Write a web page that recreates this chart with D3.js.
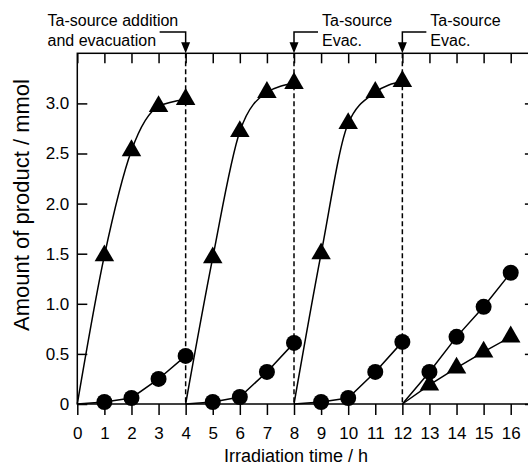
<!DOCTYPE html>
<html>
<head>
<meta charset="utf-8">
<script src="https://cdn.jsdelivr.net/npm/d3@7"></script>
<style>
  body { margin: 0; background: #fff; }
  svg { display: block; font-family: "Liberation Sans", Arial, sans-serif; }
</style>
</head>
<body>
<div id="chart"></div>
<script>
// ===== DATA =====
const runStarts = [0, 4, 8, 12];
const triangleRuns = [
  [0, 1.48, 2.53, 2.97, 3.04],
  [0, 1.46, 2.72, 3.11, 3.20],
  [0, 1.50, 2.80, 3.11, 3.22],
  [0, 0.19, 0.36, 0.52, 0.67]
];
const circleRuns = [
  [0, 0.02, 0.06, 0.25, 0.48],
  [0, 0.02, 0.07, 0.32, 0.61],
  [0, 0.02, 0.06, 0.32, 0.62],
  [0, 0.32, 0.67, 0.97, 1.31]
];
const smoothRuns = [true, true, true, false];
const evacTimes = [4, 8, 12];
const xTicks = d3.range(0, 17);
const yTicks = [0, 0.5, 1.0, 1.5, 2.0, 2.5, 3.0];
const notes = [
  { t: 4, lines: ["Ta-source addition", "and evacuation"], side: "left" },
  { t: 8, lines: ["Ta-source", "Evac."], side: "right" },
  { t: 12, lines: ["Ta-source", "Evac."], side: "right" }
];

// ===== SIZE =====
const width = 528;
const height = 468;

const svg = d3.select("#chart")
  .append("svg")
  .attr("width", width)
  .attr("height", height);

const x = d3.scaleLinear().domain([0, 16.93]).range([77.3, 535.9]);
const y = d3.scaleLinear().domain([0, 3.5]).range([404, 53.3]);

const x0 = x.range()[0], x1 = x.range()[1];
const y0 = y.range()[0], y1 = y.range()[1];

// dashed evacuation lines
svg.selectAll("line.evac")
  .data(evacTimes)
  .join("line")
  .attr("class", "evac")
  .attr("x1", d => x(d)).attr("x2", d => x(d))
  .attr("y1", y1).attr("y2", y0)
  .attr("stroke", "#000")
  .attr("stroke-width", 1.5)
  .attr("stroke-dasharray", "5,3");

// axes
function styleAxis(g){
  g.selectAll("path").remove();
  g.selectAll("line").attr("stroke", "#000").attr("stroke-width", 1.5);
  g.selectAll("text").attr("fill", "#000").style("font-size", "17px");
}

svg.append("g")
  .attr("transform", `translate(0,${y0})`)
  .call(d3.axisBottom(x).tickValues(xTicks).tickSize(11).tickPadding(12).tickFormat(d3.format("d")))
  .call(styleAxis);

svg.append("g")
  .attr("transform", `translate(0,${y1})`)
  .call(d3.axisTop(x).tickValues(xTicks).tickSize(-10).tickFormat(""))
  .call(styleAxis);

svg.append("g")
  .attr("transform", `translate(${x0},0)`)
  .call(d3.axisLeft(y).tickValues(yTicks).tickSize(-10).tickPadding(8)
    .tickFormat(d => d === 0 ? "0" : d.toFixed(1)))
  .call(styleAxis);

svg.append("g")
  .attr("transform", `translate(${x1},0)`)
  .call(d3.axisRight(y).tickValues(yTicks).tickSize(-11).tickFormat(""))
  .call(styleAxis);

// frame
svg.append("rect")
  .attr("x", x0).attr("y", y1)
  .attr("width", x1 - x0).attr("height", y0 - y1)
  .attr("fill", "none")
  .attr("stroke", "#000")
  .attr("stroke-width", 1.5);

// series lines
const smoothLine = d3.line().x(d => x(d[0])).y(d => y(d[1])).curve(d3.curveMonotoneX);
const straightLine = d3.line().x(d => x(d[0])).y(d => y(d[1]));

const toPts = (vals, run) => vals.map((v, i) => [runStarts[run] + i, v]);

triangleRuns.forEach((vals, run) => {
  svg.append("path")
    .attr("d", (smoothRuns[run] ? smoothLine : straightLine)(toPts(vals, run)))
    .attr("fill", "none").attr("stroke", "#000").attr("stroke-width", 1.5);
});
circleRuns.forEach((vals, run) => {
  svg.append("path")
    .attr("d", straightLine(toPts(vals, run)))
    .attr("fill", "none").attr("stroke", "#000").attr("stroke-width", 1.5);
});

// markers (not at the zero start of each run)
const triPts = triangleRuns.flatMap((vals, run) => toPts(vals, run).slice(1));
const circPts = circleRuns.flatMap((vals, run) => toPts(vals, run).slice(1));

svg.selectAll("circle.pt")
  .data(circPts)
  .join("circle")
  .attr("class", "pt")
  .attr("cx", d => x(d[0])).attr("cy", d => y(d[1]))
  .attr("r", 8)
  .attr("fill", "#000");

svg.selectAll("path.tri")
  .data(triPts)
  .join("path")
  .attr("class", "tri")
  .attr("transform", d => `translate(${x(d[0])},${y(d[1])})`)
  .attr("d", d3.symbol().type(d3.symbolTriangle).size(165))
  .attr("fill", "#000");

// annotations
const ann = svg.append("g").attr("class", "notes");
notes.forEach(n => {
  const ax = x(n.t);
  const lineY = 32;
  const hx = n.side === "left" ? ax - 26 : ax + 24;
  ann.append("path")
    .attr("d", `M${hx},${lineY}H${ax}V${y1 - 10}`)
    .attr("fill", "none").attr("stroke", "#000").attr("stroke-width", 1.5);
  ann.append("path")
    .attr("d", `M${ax - 4.5},${y1 - 11}L${ax + 4.5},${y1 - 11}L${ax},${y1}Z`)
    .attr("fill", "#000");
  const tx = n.side === "left" ? 47.5 : ax + 28;
  n.lines.forEach((s, i) => {
    ann.append("text")
      .attr("x", tx).attr("y", 26 + i * 20)
      .style("font-size", "16px")
      .text(s);
  });
});

// axis titles
svg.append("text")
  .attr("x", (x0 + 510.7) / 2 + 2)
  .attr("y", 462)
  .attr("text-anchor", "middle")
  .style("font-size", "18px")
  .text("Irradiation time / h");

svg.append("text")
  .attr("transform", "rotate(-90)")
  .attr("x", -205)
  .attr("y", 29)
  .attr("text-anchor", "middle")
  .style("font-size", "22px")
  .text("Amount of product / mmol");
</script>
</body>
</html>
